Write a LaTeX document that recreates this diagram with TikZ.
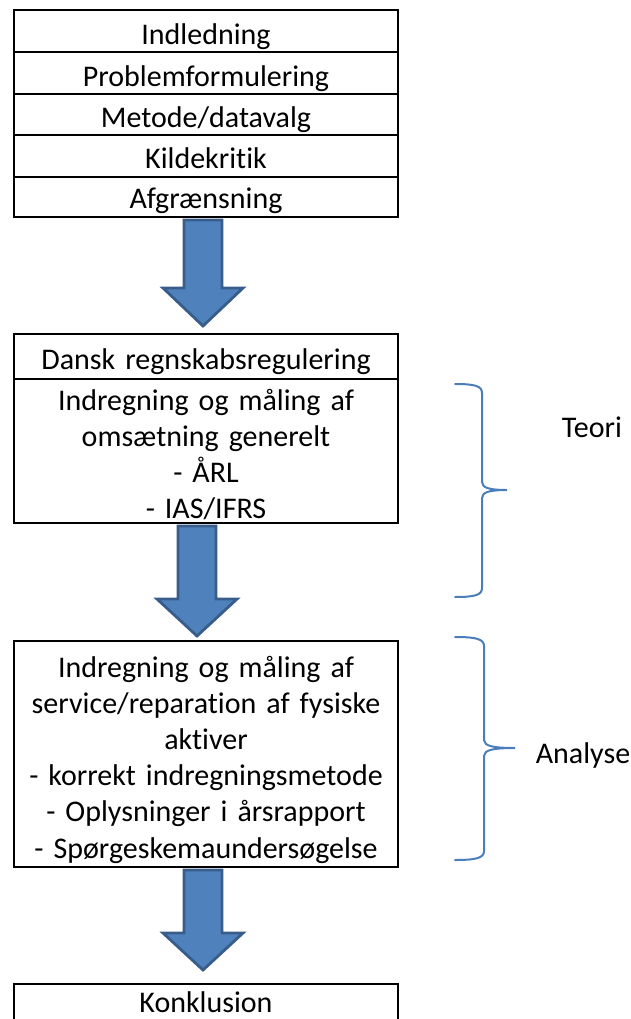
\documentclass[tikz,border=0pt]{standalone}
\usepackage{fontspec}
\setmainfont{Carlito}[Ligatures=NoCommon]
\usetikzlibrary{calc}
\definecolor{arrowfill}{HTML}{4F81BD}
\definecolor{arrowline}{HTML}{385D8A}
\definecolor{bracecol}{HTML}{4A7EBB}
\begin{document}
\begin{tikzpicture}[x=1pt,y=-1pt,
  box/.style={draw=black, line width=2.8pt, minimum width=384pt, inner sep=0pt, outer sep=0pt},
  txt/.style={anchor=base, inner sep=0pt, text width=384pt, align=center, font=\fontsize{30pt}{36.2pt}\selectfont},
  side/.style={anchor=base, inner sep=0pt, font=\fontsize{30pt}{36.2pt}\selectfont},
  blockarrow/.style={fill=arrowfill, draw=arrowline, line width=2.8pt, line join=miter},
  bracestyle/.style={draw=bracecol, line width=2pt, line cap=round}]
\useasboundingbox (0,0) rectangle (631,1019);

% top box rows
\node[box, minimum height=42pt] (r1) at (206,31) {};
\node[box, minimum height=42pt] (r2) at (206,73) {};
\node[box, minimum height=41pt] (r3) at (206,114.5) {};
\node[box, minimum height=42pt] (r4) at (206,156) {};
\node[box, minimum height=40pt] (r5) at (206,197) {};
\node[txt] (t1) at (206,45) {Indledning};
\node[txt] (t2) at (206,86.5) {Problemformulering};
\node[txt] (t3) at (206,127.5) {Metode/datavalg};
\node[txt] (t4) at (206,169) {Kildekritik};
\node[txt] (t5) at (206,208.5) {Afgrænsning};

% second box
\node[box, minimum height=45pt] (b2a) at (206,356.5) {};
\node[box, minimum height=144pt] (b2b) at (206,451) {};
\node[txt] (t2a) at (206,369) {Dansk regnskabsregulering};
\node[txt] (t2b) at (206,410) {Indregning og måling af\\omsætning generelt\\- ÅRL\\- IAS/IFRS};

% third box
\node[box, minimum height=226pt] (b3) at (206,754) {};
\node[txt] (t3b) at (206,677) {Indregning og måling af\\service/reparation af fysiske\\aktiver\\- korrekt indregningsmetode\\- Oplysninger i årsrapport\\- Spørgeskemaundersøgelse};

% fourth box
\node[box, minimum height=52pt] (b4) at (206,1010) {};
\node[txt] (t4b) at (206,1012) {Konklusion};

% block arrows
\draw[blockarrow] let \p1=($(r5.south)+(-3,3)$), \p2=($(b2a.north)+(-3,-8)$) in
  (\x1-19pt,\y1) -- (\x1+19pt,\y1) -- (\x1+19pt,\y2+38pt) -- (\x1+40pt,\y2+38pt) -- (\x2,\y2)
  -- (\x1-40pt,\y2+38pt) -- (\x1-19pt,\y2+38pt) -- cycle;
\draw[blockarrow] let \p1=($(b2b.south)+(-9,3)$), \p2=($(b3.north)+(-9,-5)$) in
  (\x1-19pt,\y1) -- (\x1+19pt,\y1) -- (\x1+19pt,\y2+37pt) -- (\x1+40pt,\y2+37pt) -- (\x2,\y2)
  -- (\x1-40pt,\y2+37pt) -- (\x1-19pt,\y2+37pt) -- cycle;
\draw[blockarrow] let \p1=($(b3.south)+(-3,3)$), \p2=($(b4.north)+(-3,-14)$) in
  (\x1-19pt,\y1) -- (\x1+19pt,\y1) -- (\x1+19pt,\y2+37pt) -- (\x1+40pt,\y2+37pt) -- (\x2,\y2)
  -- (\x1-40pt,\y2+37pt) -- (\x1-19pt,\y2+37pt) -- cycle;

% braces
\draw[bracestyle] (455,384) .. controls (475,384) and (482,386) .. (482,393) -- (482,482)
  .. controls (482,488) and (490,490) .. (507,490)
  .. controls (490,490) and (482,492) .. (482,498) -- (482,588)
  .. controls (482,595) and (475,597) .. (455,597);
\draw[bracestyle] (455,637) .. controls (476,637) and (484,639) .. (484,646) -- (484,740)
  .. controls (484,746) and (493,748) .. (515,748)
  .. controls (493,748) and (484,750) .. (484,756) -- (484,851)
  .. controls (484,858) and (476,860) .. (455,860);

\node[side] (teori) at (592,437) {Teori};
\node[side] (analyse) at (583,763) {Analyse};
\end{tikzpicture}
\end{document}
